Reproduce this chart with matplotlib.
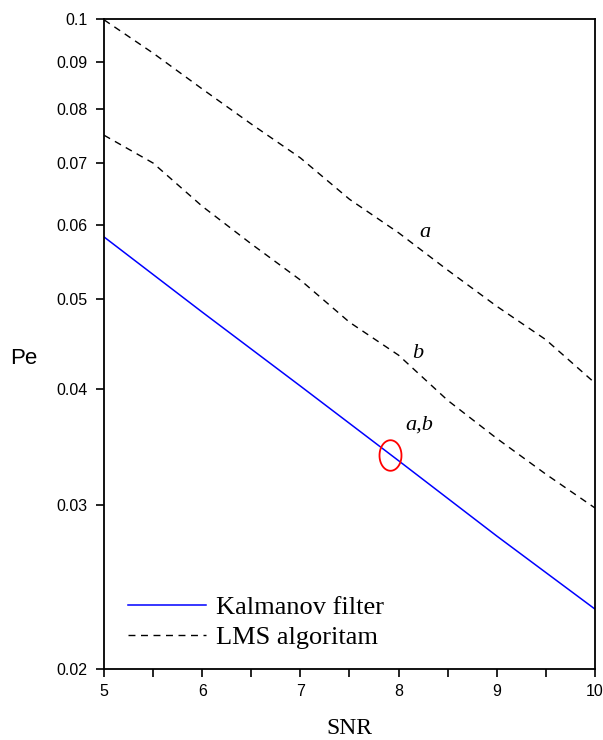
import numpy as np
import matplotlib.pyplot as plt
from matplotlib.path import Path
from matplotlib.ticker import FixedLocator, FixedFormatter, NullLocator

# SNR grid and error probabilities
snr = [5.0, 5.5, 6.0, 6.5, 7.0, 7.5, 8.0, 8.5, 9.0, 9.5, 10.0]
lms_a = [0.0998, 0.0919, 0.0841, 0.0771, 0.0709, 0.0640, 0.0589, 0.0537, 0.0491, 0.0452, 0.0406]
lms_b = [0.0750, 0.0700, 0.0629, 0.0573, 0.0524, 0.0472, 0.0435, 0.0389, 0.0354, 0.0324, 0.0298]

snr_k = [5, 6, 7, 8, 9, 10]
kalman = [0.0583, 0.0484, 0.0403, 0.0335, 0.0278, 0.0232]

yticks = [0.02, 0.03, 0.04, 0.05, 0.06, 0.07, 0.08, 0.09, 0.1]
ytick_labels = ['0.02', '0.03', '0.04', '0.05', '0.06', '0.07', '0.08', '0.09', '0.1']

fig = plt.figure(figsize=(6.03, 7.40), dpi=100)
ax = fig.add_axes([0.1725, 0.0959, 0.8142, 0.8784])

ax.plot(snr_k, kalman, color='blue', lw=1.1, label='Kalmanov filter')
ax.plot(snr, lms_a, color='black', lw=1.0, ls=(0, (5, 4)), label='LMS algoritam')
ax.plot(snr, lms_b, color='black', lw=1.0, ls=(0, (5, 4)))

ax.set_yscale('log')
ax.set_xlim(5, 10)
ax.set_ylim(0.02, 0.1)
ax.yaxis.set_major_locator(FixedLocator(yticks))
ax.yaxis.set_major_formatter(FixedFormatter(ytick_labels))
ax.yaxis.set_minor_locator(NullLocator())
ax.set_xticks([5, 6, 7, 8, 9, 10])
ax.set_xticks(np.arange(5, 10.01, 0.5), minor=True)

ax.tick_params(which='both', direction='out', length=6, width=1.2, labelsize=11.5)
ax.tick_params(axis='y', pad=6)
ax.tick_params(axis='x', pad=5)
for lab in ax.get_xticklabels() + ax.get_yticklabels():
    lab.set_fontfamily('Liberation Sans')
for sp in ax.spines.values():
    sp.set_linewidth(1.3)

ax.set_xlabel('SNR', family='Liberation Serif', fontsize=17, va='center')
ax.xaxis.set_label_coords(0.5, -0.092)
ax.set_ylabel('Pe', family='Liberation Sans', fontsize=16, rotation=0,
              ha='center', va='center')
ax.yaxis.set_label_coords(-0.163, 0.478)

# curve labels
ax.text(8.27, 0.059, 'a', family='Liberation Serif', style='italic', fontsize=16,
        ha='center', va='center')
ax.text(8.2, 0.0437, 'b', family='Liberation Serif', style='italic', fontsize=16,
        ha='center', va='center')
ax.text(8.07, 0.0366, 'a,b', family='Liberation Serif', style='italic', fontsize=16,
        ha='left', va='center')

# red ellipse marking the crossing point
t = np.linspace(0, 2 * np.pi, 60)
ell = Path(np.column_stack([0.36 * np.cos(t), 0.5 * np.sin(t)]))
ax.plot([7.91], [0.034], marker=ell, ms=22, mfc='none', mec='red', mew=1.3)

leg = ax.legend(loc='lower left', bbox_to_anchor=(0.0, -0.006), frameon=False,
                prop={'family': 'Liberation Serif', 'size': 19},
                handlelength=2.95, handletextpad=0.4, labelspacing=0.25)

fig.savefig('out.png', dpi=100)
